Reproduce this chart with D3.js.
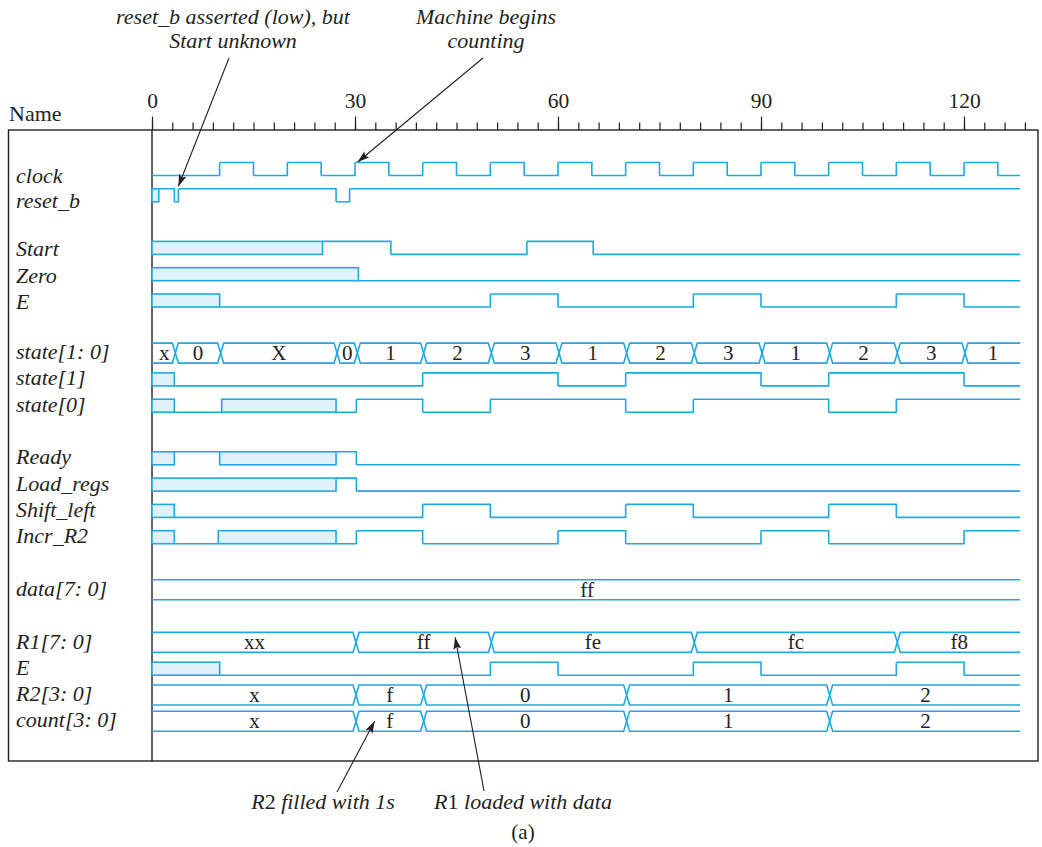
<!DOCTYPE html>
<html><head><meta charset="utf-8">
<script src="https://cdn.jsdelivr.net/npm/d3@7"></script>
<style>
body{margin:0;background:#fff}
svg{display:block}
text{font-family:"Liberation Serif","Times New Roman",serif;fill:#231f20}
</style>
</head><body><svg id="c" width="1042" height="847"></svg>
<script>
// ---------------- DATA ----------------
const majorTicks = [0, 30, 60, 90, 120];
const minorTicks = [0,3,6,9,12,15,18,21,24,27,30,33,36,39,42,45,48,51,54,57,60,63,66,69,72,75,78,81,84,87,90,93,96,99,102,105,108,111,114,117,120,123,126,129];
const tEnd = 128.3;
// [time, value]  value: 0 / 1 / "u" (unknown)
const clock    = [[0,0],[10,1],[15,0],[20,1],[25,0],[30,1],[35,0],[40,1],[45,0],[50,1],[55,0],[60,1],[65,0],[70,1],[75,0],[80,1],[85,0],[90,1],[95,0],[100,1],[105,0],[110,1],[115,0],[120,1],[125,0]];
const reset_b  = [[0,"u"],[1,1],[3.3,0],[3.9,1],[27.2,0],[29.2,1]];
const start    = [[0,"u"],[25.2,1],[35.3,0],[55.4,1],[65.2,0]];
const zero     = [[0,"u"],[30.5,0]];
const eSig     = [[0,"u"],[10,0],[50,1],[60,0],[80,1],[90,0],[110,1],[120,0]];
const state1   = [[0,"u"],[3.3,0],[40,1],[60,0],[70,1],[90,0],[100,1],[120,0]];
const state0   = [[0,"u"],[3.3,0],[10.3,"u"],[27.2,0],[30.2,1],[40,0],[50,1],[70,0],[80,1],[100,0],[110,1]];
const ready    = [[0,"u"],[3.3,1],[10,"u"],[27.2,1],[30.2,0]];
const loadRegs = [[0,"u"],[27.2,1],[30.2,0]];
const shiftLeft= [[0,"u"],[3.3,0],[40,1],[50,0],[70,1],[80,0],[100,1],[110,0]];
const incrR2   = [[0,"u"],[3.3,0],[9.8,"u"],[27.2,0],[30.2,1],[40,0],[60,1],[70,0],[90,1],[100,0],[120,1]];
// buses: [time, label]
const stateBus = [[0,"x"],[3.3,"0"],[10,"X"],[27.2,"0"],[30.2,"1"],[40,"2"],[50,"3"],[60,"1"],[70,"2"],[80,"3"],[90,"1"],[100,"2"],[110,"3"],[120,"1"]];
const dataBus  = [[0,"ff"]];
const r1Bus    = [[0,"xx"],[30,"ff"],[50,"fe"],[80,"fc"],[110,"f8"]];
const r2Bus    = [[0,"x"],[30,"f"],[40,"0"],[70,"1"],[100,"2"]];
const countBus = [[0,"x"],[30,"f"],[40,"0"],[70,"1"],[100,"2"]];
const signalNames = ["clock","reset_b","Start","Zero","E","state[1: 0]","state[1]","state[0]","Ready","Load_regs","Shift_left","Incr_R2","data[7: 0]","R1[7: 0]","E","R2[3: 0]","count[3: 0]"];
const signalData  = [clock,reset_b,start,zero,eSig,stateBus,state1,state0,ready,loadRegs,shiftLeft,incrR2,dataBus,r1Bus,eSig,r2Bus,countBus];
const signalKinds = ["bit","bit","bit","bit","bit","bus","bit","bit","bit","bit","bit","bit","bus","bus","bit","bus","bus"];
const annotTop = [["reset_b asserted (low), but","Start unknown"],["Machine begins","counting"]];
const annotBottom = ["R2 filled with 1s","R1 loaded with data"];

// ---------------- LAYOUT ----------------
const LINE = "#1fa9e1", FILL = "#dff2fa", INK = "#231f20";
const rowSlots = [0,1,3,4,5,7,8,9,11,12,13,14,16,18,19,20,21];
const labelDy  = [14,13,8,8.5,8,6,6,6.5,6,6,6,6,6,6.5,6.5,6,6];
const svg = d3.select("#c");
const x = d3.scaleLinear().domain([0,120]).range([152,964]);
const slotY = d3.scaleLinear().domain([0,21]).range([169,721.3]);
const bitHalf = 6.5, busHalf = 10, cross = 3;
const boxL = 8.5, boxT = 130, boxR = 1038, boxB = 761;
const LABEL_FS = 22, NUM_FS = 21;

// frame
svg.append("rect").attr("x",boxL).attr("y",boxT).attr("width",boxR-boxL).attr("height",boxB-boxT)
  .attr("fill","none").attr("stroke",INK).attr("stroke-width",1.4);
svg.append("line").attr("x1",x(0)).attr("x2",x(0)).attr("y1",boxT).attr("y2",boxB)
  .attr("stroke",INK).attr("stroke-width",1.4);

// axis
const gMinor = svg.append("g").attr("transform",`translate(0,${boxT})`)
  .call(d3.axisTop(x).tickValues(minorTicks).tickSize(7.5).tickFormat(""));
const gMajor = svg.append("g").attr("transform",`translate(0,${boxT})`)
  .call(d3.axisTop(x).tickValues(majorTicks).tickSize(13.5).tickPadding(8.5));
[gMinor,gMajor].forEach(g=>{
  g.select(".domain").remove();
  g.selectAll("line").attr("stroke",INK).attr("stroke-width",1.2);
});
gMajor.selectAll("text").attr("font-family","Liberation Serif, serif").attr("font-size",NUM_FS+0.5).attr("fill",INK);
svg.append("text").attr("x",9).attr("y",121).attr("font-size",LABEL_FS).text("Name");

// signals
const gSig = svg.append("g");
function segsOf(arr){
  return arr.map((d,i)=>({t0:d[0], t1: i<arr.length-1 ? arr[i+1][0] : tEnd, v:d[1], first:i===0, last:i===arr.length-1}));
}
function drawBit(arr, cy){
  const yH = cy-bitHalf, yL = cy+bitHalf;
  const segs = segsOf(arr);
  segs.filter(s=>s.v==="u").forEach(s=>{
    gSig.append("rect").attr("x",x(s.t0)).attr("y",yH).attr("width",x(s.t1)-x(s.t0)).attr("height",yL-yH)
      .attr("fill",FILL).attr("stroke",LINE).attr("stroke-width",1.6);
  });
  let p = "";
  segs.forEach((s,i)=>{
    if (s.v==="u") return;
    const y = s.v===1 ? yH : yL;
    p += `M${x(s.t0)},${y}H${x(s.t1)}`;
    const n = segs[i+1];
    if (n && n.v!=="u" && n.v!==s.v) p += `V${n.v===1 ? yH : yL}`;
  });
  gSig.append("path").attr("d",p).attr("fill","none").attr("stroke",LINE).attr("stroke-width",1.6);
}
function drawBus(arr, cy){
  const yT = cy-busHalf, yB = cy+busHalf, mid = cy;
  const xc = t => x(t)+1;
  segsOf(arr).forEach(s=>{
    const L = s.first ? null : xc(s.t0), R = s.last ? null : xc(s.t1);
    let p = L==null ? `M${x(s.t0)},${yT}` : `M${L},${mid}L${L+cross},${yT}`;
    p += R==null ? `H${x(tEnd)}M${x(tEnd)},${yB}` : `H${R-cross}L${R},${mid}L${R-cross},${yB}`;
    p += L==null ? `H${x(s.t0)}` : `H${L+cross}L${L},${mid}`;
    gSig.append("path").attr("d",p).attr("fill","none").attr("stroke",LINE).attr("stroke-width",1.6);
    const xl = x(s.t0), xr = s.last ? x(tEnd) : x(s.t1);
    gSig.append("text").attr("x",(xl+xr)/2+1).attr("y",cy+7).attr("text-anchor","middle")
      .attr("font-size",NUM_FS).text(s.v);
  });
}
signalNames.forEach((name,i)=>{
  const cy = slotY(rowSlots[i]);
  if (signalKinds[i]==="bit") drawBit(signalData[i], cy); else drawBus(signalData[i], cy);
  svg.append("text").attr("x",16).attr("y",cy+labelDy[i]).attr("font-size",LABEL_FS)
    .attr("font-style","italic").text(name);
});

// annotations
svg.append("defs").append("marker").attr("id","ah").attr("viewBox","0 0 12 8").attr("refX",12).attr("refY",4)
  .attr("markerWidth",12).attr("markerHeight",8).attr("markerUnits","userSpaceOnUse").attr("orient","auto")
  .append("path").attr("d","M0,0L12,4L0,8L2.5,4Z").attr("fill",INK);
const topCx = [233,486];
annotTop.forEach((lines,i)=>{
  lines.forEach((l,j)=>svg.append("text").attr("x",topCx[i]).attr("y",24+j*24).attr("text-anchor","middle")
    .attr("font-size",LABEL_FS).attr("font-style","italic").text(l));
});
const arrows = [
  {x1:229, y1:58, x2:x(3.9), y2:slotY(1)-9},
  {x1:483, y1:58, x2:x(30.4), y2:slotY(0)-7},
  {x1:337, y1:792, x2:x(32.9), y2:slotY(21)},
  {x1:484, y1:791, x2:x(44.8), y2:slotY(18)-5}
];
arrows.forEach(a=>svg.append("line").attr("x1",a.x1).attr("y1",a.y1).attr("x2",a.x2).attr("y2",a.y2)
  .attr("stroke",INK).attr("stroke-width",1.1).attr("marker-end","url(#ah)"));
const botCx = [323,523];
annotBottom.forEach((l,i)=>{
  const t = svg.append("text").attr("x",botCx[i]).attr("y",809).attr("text-anchor","middle")
    .attr("font-size",LABEL_FS).attr("font-style","italic");
  t.append("tspan").text(l.slice(0,1));
  t.append("tspan").attr("font-style","normal").text(l.slice(1,2));
  t.append("tspan").text(l.slice(2));
});
svg.append("text").attr("x",523).attr("y",839).attr("text-anchor","middle").attr("font-size",NUM_FS).text("(a)");
</script>
</body></html>
